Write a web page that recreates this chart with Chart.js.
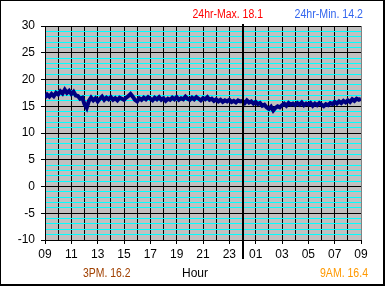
<!DOCTYPE html>
<html><head><meta charset="utf-8">
<script src="https://cdn.jsdelivr.net/npm/chart.js@4/dist/chart.umd.min.js"></script>
<style>html,body{margin:0;padding:0;background:#fff;}canvas{display:block;}</style>
</head><body>
<canvas id="c" width="385" height="286"></canvas>
<script>
// ---- data ----
const xTickLabels = ['09','11','13','15','17','19','21','23','01','03','05','07','09'];
const yMin = -10, yMax = 30;
const hoursSpan = 24;        // 09:00 -> 09:00 next day
const midnightOffset = 15;   // hours after 09:00
// temperature readings, every 10 minutes from 09:00
const temps = [
  16.6,17.2,16.8,17.3,16.9,17.5,
  17.2,17.8,17.4,18.1,17.5,17.9,
  17.3,17.7,17.0,16.9,16.4,16.6,
  15.4,14.7,16.0,16.6,16.1,16.5,
  15.9,16.4,16.8,16.2,16.6,16.3,
  16.7,16.2,16.5,16.1,16.6,16.4,
  16.2,16.6,16.9,17.3,16.8,16.2,
  15.9,16.5,16.2,16.6,16.3,16.7,
  16.4,16.1,16.6,16.3,16.7,16.2,
  16.5,16.0,16.4,16.2,16.6,16.3,
  16.7,16.2,16.5,16.3,16.8,16.4,
  16.2,16.6,16.3,16.7,16.4,16.1,
  16.5,16.3,16.7,16.2,16.4,16.0,
  16.3,15.9,16.2,15.8,16.1,15.9,
  16.2,15.8,16.0,15.7,16.1,15.9,
  16.0,15.6,16.1,15.7,15.9,15.5,
  15.8,15.4,15.6,15.1,15.3,14.8,
  14.5,14.9,14.2,14.7,15.0,14.8,
  15.2,15.5,15.1,15.6,15.3,15.5,
  15.2,15.6,15.3,15.7,15.2,15.5,
  15.3,15.6,15.1,15.5,15.2,15.6,
  15.3,15.0,15.4,15.2,15.6,15.4,
  15.8,15.5,15.9,15.6,16.0,15.7,
  16.1,15.8,16.3,16.0,16.4,16.2,
  16.4
];
const maxValue = 18.1, minValue = 14.2, pm3Value = 16.2, am9Value = 16.4;
const xTitle = 'Hour';

const points = temps.map((t, i) => ({ x: i * hoursSpan / (temps.length - 1), y: t }));

const FONT = "'Liberation Sans', Arial, sans-serif";

const deco = {
  id: 'deco',
  beforeDraw(chart) {
    const { ctx, chartArea: a } = chart;
    ctx.save();
    ctx.fillStyle = '#ffffff';
    ctx.fillRect(0, 0, chart.width, chart.height);
    ctx.fillStyle = '#c0c0c0';
    ctx.fillRect(a.left, a.top, a.right - a.left, a.bottom - a.top);
    ctx.restore();
  },
  afterDraw(chart) {
    const { ctx } = chart;
    const xs = chart.scales.x;
    ctx.save();
    // midnight marker
    const mx = Math.round(xs.getPixelForValue(midnightOffset));
    ctx.fillStyle = '#000';
    ctx.fillRect(mx - 1, 24, 2, 235);
    // outer frame
    ctx.fillRect(0, 0, 385, 1);
    ctx.fillRect(0, 0, 1, 286);
    ctx.fillRect(383, 0, 2, 286);
    ctx.fillRect(0, 284, 385, 2);
    // texts
    ctx.font = '12px ' + FONT;
    ctx.textBaseline = 'alphabetic';
    ctx.textAlign = 'left';
    ctx.fillStyle = '#ff0000';
    ctx.fillText('24hr-Max. ' + maxValue.toFixed(1), 192.5, 18, 70.5);
    ctx.fillStyle = '#3366ee';
    ctx.fillText('24hr-Min. ' + minValue.toFixed(1), 294.5, 18, 68.5);
    ctx.fillStyle = '#a04000';
    ctx.fillText('3PM. ' + pm3Value.toFixed(1), 83, 277, 47.5);
    ctx.fillStyle = '#ff9900';
    ctx.fillText('9AM. ' + am9Value.toFixed(1), 320, 277, 48);
    ctx.fillStyle = '#000';
    ctx.fillText(xTitle, 182, 277);
    ctx.restore();
  }
};

new Chart(document.getElementById('c'), {
  type: 'line',
  data: { datasets: [{
    data: points,
    borderColor: '#000080',
    borderWidth: 4,
    pointRadius: 0,
    tension: 0,
    fill: false
  }]},
  options: {
    responsive: false,
    animation: false,
    devicePixelRatio: 1,
    layout: { padding: { top: 26, right: 24, left: 0, bottom: 0 } },
    plugins: { legend: { display: false }, tooltip: { enabled: false }, title: { display: false } },
    scales: {
      x: {
        type: 'linear', min: 0, max: hoursSpan,
        afterFit(s) { s.height = 46; },
        border: { display: true, color: '#000', width: 1 },
        grid: {
          color: c => (c.tick && c.tick.value === hoursSpan) ? '#808080' : '#000',
          lineWidth: 1,
          drawTicks: true,
          tickLength: 4,
          tickColor: c => (c.tick && c.tick.value % 2 === 0) ? '#000' : 'rgba(0,0,0,0)'
        },
        ticks: {
          stepSize: 1, autoSkip: false, maxRotation: 0, minRotation: 0,
          padding: 3,
          color: '#000',
          font: { family: FONT, size: 12 },
          callback: v => (v % 2 === 0) ? xTickLabels[v / 2] : ''
        }
      },
      y: {
        min: yMin, max: yMax,
        afterFit(s) { s.width = 45; },
        border: { display: true, color: '#000', width: 1 },
        grid: {
          color: c => (c.tick && c.tick.value % 5 === 0) ? '#000' : '#00ffff',
          lineWidth: 1,
          drawTicks: true,
          tickLength: 4,
          tickColor: c => (c.tick && c.tick.value % 5 === 0) ? '#000' : 'rgba(0,0,0,0)'
        },
        ticks: {
          stepSize: 1, autoSkip: false,
          padding: 6,
          color: '#000',
          font: { family: FONT, size: 12 },
          callback: v => (v % 5 === 0) ? String(v) : ''
        }
      }
    }
  },
  plugins: [deco]
});
</script>
</body></html>
